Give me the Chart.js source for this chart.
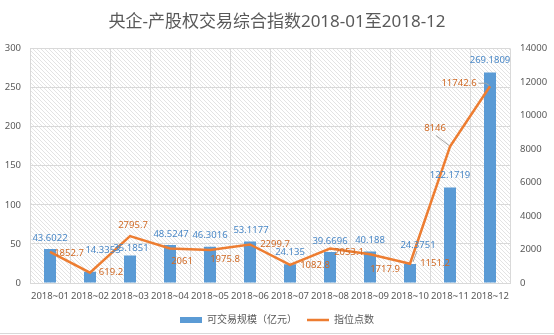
<!DOCTYPE html>
<html>
<head>
<meta charset="utf-8">
<script src="https://cdn.jsdelivr.net/npm/chart.js@4/dist/chart.umd.min.js"></script>
<style>
  html, body { margin: 0; padding: 0; background: #fff; }
  #wrap { width: 554px; height: 335px; position: relative; }
</style>
</head>
<body>
<div id="wrap"><canvas id="chart" width="554" height="335"></canvas></div>
<script>
const months = ['2018~01', '2018~02', '2018~03', '2018~04', '2018~05', '2018~06',
  '2018~07', '2018~08', '2018~09', '2018~10', '2018~11', '2018~12'];
const scaleValues = [43.6022, 14.3353, 35.1851, 48.5247, 46.3016, 53.1177,
  24.135, 39.6696, 40.188, 24.3751, 122.1719, 269.1809];
const indexValues = [1852.7, 619.2, 2795.7, 2061, 1975.8, 2299.7,
  1082.8, 2053.1, 1717.9, 1151.2, 8146, 11742.6];
const barLabels = ['43.6022', '14.3353', '35.1851', '48.5247', '46.3016', '53.1177',
  '24.135', '39.6696', '40.188', '24.3751', '122.1719', '269.1809'];
const lineLabels = ['1852.7', '619.2', '2795.7', '2061', '1975.8', '2299.7',
  '1082.8', '2053.1', '1717.9', '1151.2', '8146', '11742.6'];

// label nudges (dx, dy) relative to bar top / line point
const barLabelShift = [[0, -11], [13, -21], [1, -7], [1, -11], [0, -11], [1, -11],
  [0, -12], [0, -11], [0, -11], [8, -19], [0, -12], [0, -12]];
const lineLabelShift = [[19, 1], [21, 0], [3, -11], [12, 13], [15, 9], [25, 0],
  [25, 0], [19, 4], [15, 15], [25, 0], [-15, -18], [-31, -3]];
const leaderLine = [false, false, false, false, false, false,
  false, false, false, false, true, true];

const FONT = '"Noto Sans", "Noto Sans CJK SC", sans-serif';
const BLUE = '#5B9BD5';
const ORANGE = '#ED7D31';
const GRID = '#d9d9d9';

function makeHatch() {
  const c = document.createElement('canvas');
  c.width = 4; c.height = 4;
  const g = c.getContext('2d');
  g.fillStyle = '#ffffff';
  g.fillRect(0, 0, 4, 4);
  g.strokeStyle = '#e3e3e3';
  g.lineWidth = 1;
  g.beginPath();
  g.moveTo(-1, -1); g.lineTo(5, 5);
  g.moveTo(-1, 3); g.lineTo(1, 5);
  g.moveTo(3, -1); g.lineTo(5, 1);
  g.stroke();
  return c;
}

const backdrop = {
  id: 'backdrop',
  beforeDraw(chart) {
    const { ctx, chartArea: a } = chart;
    ctx.save();
    ctx.fillStyle = ctx.createPattern(makeHatch(), 'repeat');
    ctx.fillRect(a.left, a.top, a.right - a.left, a.bottom - a.top);
    ctx.strokeStyle = GRID;
    ctx.lineWidth = 1;
    ctx.beginPath();
    ctx.moveTo(0, 333.5);
    ctx.lineTo(chart.width, 333.5);
    ctx.stroke();
    ctx.restore();
  }
};

const valueLabels = {
  id: 'valueLabels',
  afterDatasetsDraw(chart) {
    const { ctx } = chart;
    const bars = chart.getDatasetMeta(0).data;
    const pts = chart.getDatasetMeta(1).data;
    ctx.save();
    ctx.font = '9.5px ' + FONT;
    ctx.textAlign = 'center';
    ctx.textBaseline = 'middle';

    bars.forEach((b, i) => {
      const x = b.x + barLabelShift[i][0];
      const y = b.y + barLabelShift[i][1];
      if (i === 9) {
        ctx.strokeStyle = '#a6a6a6';
        ctx.lineWidth = 1;
        ctx.beginPath();
        ctx.moveTo(x - 1, y + 6);
        ctx.lineTo(b.x + 3, b.y - 2);
        ctx.stroke();
      }
      ctx.fillStyle = '#4a88c7';
      ctx.fillText(barLabels[i], x, y);
    });

    pts.forEach((p, i) => {
      const x = p.x + lineLabelShift[i][0];
      const y = p.y + lineLabelShift[i][1];
      if (leaderLine[i]) {
        const w = ctx.measureText(lineLabels[i]).width;
        ctx.strokeStyle = '#a6a6a6';
        ctx.lineWidth = 1;
        ctx.beginPath();
        if (i === 11) {
          ctx.moveTo(x + w / 2 + 2, y);
          ctx.lineTo(x + w / 2 + 9, y);
        } else {
          ctx.moveTo(x + 1, y + 7);
        }
        ctx.lineTo(p.x - 1, p.y - 1);
        ctx.stroke();
      }
      ctx.fillStyle = '#d06a25';
      ctx.fillText(lineLabels[i], x, y);
    });
    ctx.restore();
  }
};

new Chart(document.getElementById('chart'), {
  data: {
    labels: months,
    datasets: [
      {
        type: 'bar',
        label: '可交易规模（亿元）',
        data: scaleValues,
        backgroundColor: BLUE,
        yAxisID: 'y',
        barPercentage: 0.3,
        categoryPercentage: 1,
        order: 2
      },
      {
        type: 'line',
        label: '指位点数',
        data: indexValues,
        borderColor: ORANGE,
        backgroundColor: ORANGE,
        borderWidth: 2.5,
        pointRadius: 0,
        tension: 0,
        yAxisID: 'y1',
        order: 1
      }
    ]
  },
  options: {
    responsive: false,
    animation: false,
    layout: { padding: 0 },
    plugins: {
      title: {
        display: true,
        text: '央企-产股权交易综合指数2018-01至2018-12',
        color: '#595959',
        font: { family: FONT, size: 17, weight: 'normal' },
        padding: { top: 12, bottom: 16 }
      },
      legend: {
        position: 'bottom',
        labels: {
          color: '#595959',
          font: { family: FONT, size: 10 },
          usePointStyle: true,
          pointStyleWidth: 22,
          boxHeight: 6,
          padding: 10,
          generateLabels(chart) {
            const items = Chart.defaults.plugins.legend.labels.generateLabels(chart);
            items.sort((a, b) => a.datasetIndex - b.datasetIndex);
            items.forEach((it) => {
              if (it.datasetIndex === 0) {
                it.pointStyle = 'rect';
                it.lineWidth = 0;
              } else {
                it.pointStyle = 'line';
                it.lineWidth = 2.5;
                it.strokeStyle = ORANGE;
              }
            });
            return items;
          }
        }
      },
      tooltip: { enabled: false }
    },
    scales: {
      x: {
        grid: { color: GRID, offset: true, drawTicks: false },
        border: { color: GRID },
        ticks: { color: '#595959', font: { family: FONT, size: 9.5 }, padding: 8, maxRotation: 0, autoSkip: false },
        afterFit(s) { s.height = 22; }
      },
      y: {
        position: 'left',
        min: 0, max: 300,
        ticks: { stepSize: 50, color: '#595959', font: { family: FONT, size: 9.5 }, padding: 9 },
        grid: { color: GRID, drawTicks: false },
        border: { display: false },
        afterFit(s) { s.width = 30; }
      },
      y1: {
        position: 'right',
        min: 0, max: 14000,
        ticks: {
          stepSize: 2000, color: '#595959', font: { family: FONT, size: 9.5 }, padding: 10,
          callback: (v) => String(v)
        },
        grid: { drawOnChartArea: false, drawTicks: false },
        border: { display: false },
        afterFit(s) { s.width = 44; }
      }
    }
  },
  plugins: [backdrop, valueLabels]
});
</script>
</body>
</html>
